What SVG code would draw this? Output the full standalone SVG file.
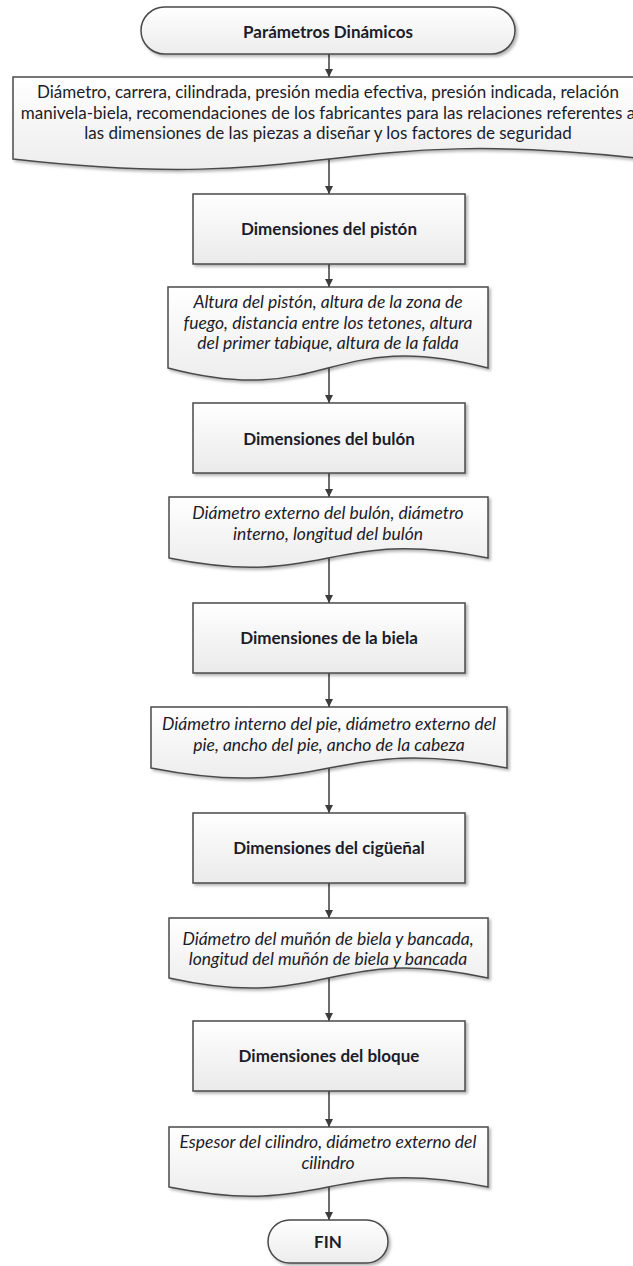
<svg xmlns="http://www.w3.org/2000/svg" width="633" height="1266" viewBox="0 0 633 1266">
  <style>
    .shape { stroke: #4a4a4a; stroke-width: 1.5; filter: url(#shadow); }
    .term { fill: url(#gradTerm); }
    .proc { fill: url(#gradProc); }
    .doc { fill: url(#gradDoc); }
    text { font-family: "Lato", "Liberation Sans", sans-serif; fill: #1c1c2a; text-anchor: middle; font-size: 17px; }
    .bold { font-weight: bold; }
    .ital { font-style: italic; font-size: 17.5px; }
    .conn { stroke: #3c3c3c; stroke-width: 1.5; fill: none; marker-end: url(#arrow); }
  </style>
  <defs>
    <linearGradient id="gradTerm" x1="0" y1="0" x2="0" y2="1">
      <stop offset="0" stop-color="#ffffff"/>
      <stop offset="1" stop-color="#ececec"/>
    </linearGradient>
    <linearGradient id="gradProc" x1="0" y1="0" x2="0" y2="1">
      <stop offset="0" stop-color="#ffffff"/>
      <stop offset="1" stop-color="#eaeaea"/>
    </linearGradient>
    <linearGradient id="gradDoc" x1="0" y1="0" x2="0" y2="1">
      <stop offset="0" stop-color="#ffffff"/>
      <stop offset="1" stop-color="#ededed"/>
    </linearGradient>
    <filter id="shadow" x="-10%" y="-10%" width="130%" height="140%">
      <feDropShadow dx="2" dy="2" stdDeviation="1.5" flood-color="#000" flood-opacity="0.3"/>
    </filter>
    <marker id="arrow" viewBox="0 0 10 10" refX="10" refY="5" markerWidth="8" markerHeight="8" markerUnits="userSpaceOnUse" orient="auto">
      <path d="M0,0 L10,5 L0,10 z" fill="#3c3c3c"/>
    </marker>
  </defs>

  <!-- connectors -->
  <g id="connectors">
    <line class="conn" x1="329" y1="54" x2="329" y2="77"/>
    <line class="conn" x1="329" y1="157" x2="329" y2="194"/>
    <line class="conn" x1="329" y1="264" x2="329" y2="287"/>
    <line class="conn" x1="329" y1="368" x2="329" y2="403"/>
    <line class="conn" x1="329" y1="473" x2="329" y2="497"/>
    <line class="conn" x1="329" y1="558" x2="329" y2="603"/>
    <line class="conn" x1="329" y1="673" x2="329" y2="707"/>
    <line class="conn" x1="329" y1="768" x2="329" y2="813"/>
    <line class="conn" x1="329" y1="883" x2="329" y2="918"/>
    <line class="conn" x1="329" y1="978" x2="329" y2="1021"/>
    <line class="conn" x1="329" y1="1091" x2="329" y2="1127"/>
    <line class="conn" x1="329" y1="1187" x2="329" y2="1220"/>
  </g>

  <!-- start terminator -->
  <g id="start">
    <rect class="shape term" x="141" y="7" width="374" height="47" rx="23.5" ry="23.5"/>
    <text class="bold" x="328" y="38">Parámetros Dinámicos</text>
  </g>

  <!-- input data -->
  <g id="doc-inputs">
    <path class="shape doc" d="M13,77 H645 V159 C329,123 329,195 13,159 Z"/>
    <text x="328" y="98">Diámetro, carrera, cilindrada, presión media efectiva, presión indicada, relación</text>
    <text x="328" y="119">manivela-biela, recomendaciones de los fabricantes para las relaciones referentes a</text>
    <text x="328" y="139">las dimensiones de las piezas a diseñar y los factores de seguridad</text>
  </g>

  <g id="proc-piston">
    <rect class="shape proc" x="193" y="194" width="272" height="70"/>
    <text class="bold" x="329" y="235">Dimensiones del pistón</text>
  </g>

  <g id="doc-piston">
    <path class="shape doc" d="M168,287 H488 V368 C328,326 328,410 168,368 Z"/>
    <text class="ital" x="328" y="308">Altura del pistón, altura de la zona de</text>
    <text class="ital" x="328" y="329">fuego, distancia entre los tetones, altura</text>
    <text class="ital" x="328" y="349">del primer tabique, altura de la falda</text>
  </g>

  <g id="proc-bulon">
    <rect class="shape proc" x="193" y="403" width="272" height="70"/>
    <text class="bold" x="329" y="445">Dimensiones del bulón</text>
  </g>

  <g id="doc-bulon">
    <path class="shape doc" d="M169,497 H488 V558 C328,526 328,590 169,558 Z"/>
    <text class="ital" x="328" y="519">Diámetro externo del bulón, diámetro</text>
    <text class="ital" x="328" y="540">interno, longitud del bulón</text>
  </g>

  <g id="proc-biela">
    <rect class="shape proc" x="193" y="603" width="272" height="70"/>
    <text class="bold" x="329" y="644">Dimensiones de la biela</text>
  </g>

  <g id="doc-biela">
    <path class="shape doc" d="M151,707 H507 V768 C329,733 329,803 151,768 Z"/>
    <text class="ital" x="329" y="730">Diámetro interno del pie, diámetro externo del</text>
    <text class="ital" x="329" y="751">pie, ancho del pie, ancho de la cabeza</text>
  </g>

  <g id="proc-ciguenal">
    <rect class="shape proc" x="193" y="813" width="272" height="70"/>
    <text class="bold" x="329" y="854">Dimensiones del cigüeñal</text>
  </g>

  <g id="doc-ciguenal">
    <path class="shape doc" d="M169,918 H488 V978 C328,943 328,1013 169,978 Z"/>
    <text class="ital" x="328" y="945">Diámetro del muñón de biela y bancada,</text>
    <text class="ital" x="328" y="965">longitud del muñón de biela y bancada</text>
  </g>

  <g id="proc-bloque">
    <rect class="shape proc" x="193" y="1021" width="272" height="70"/>
    <text class="bold" x="329" y="1062">Dimensiones del bloque</text>
  </g>

  <g id="doc-bloque">
    <path class="shape doc" d="M169,1127 H488 V1187 C328,1155 328,1219 169,1187 Z"/>
    <text class="ital" x="328" y="1148">Espesor del cilindro, diámetro externo del</text>
    <text class="ital" x="328" y="1169">cilindro</text>
  </g>

  <!-- end terminator -->
  <g id="end">
    <rect class="shape term" x="268" y="1220" width="120" height="43" rx="21.5" ry="21.5"/>
    <text class="bold" x="328" y="1248">FIN</text>
  </g>
</svg>
